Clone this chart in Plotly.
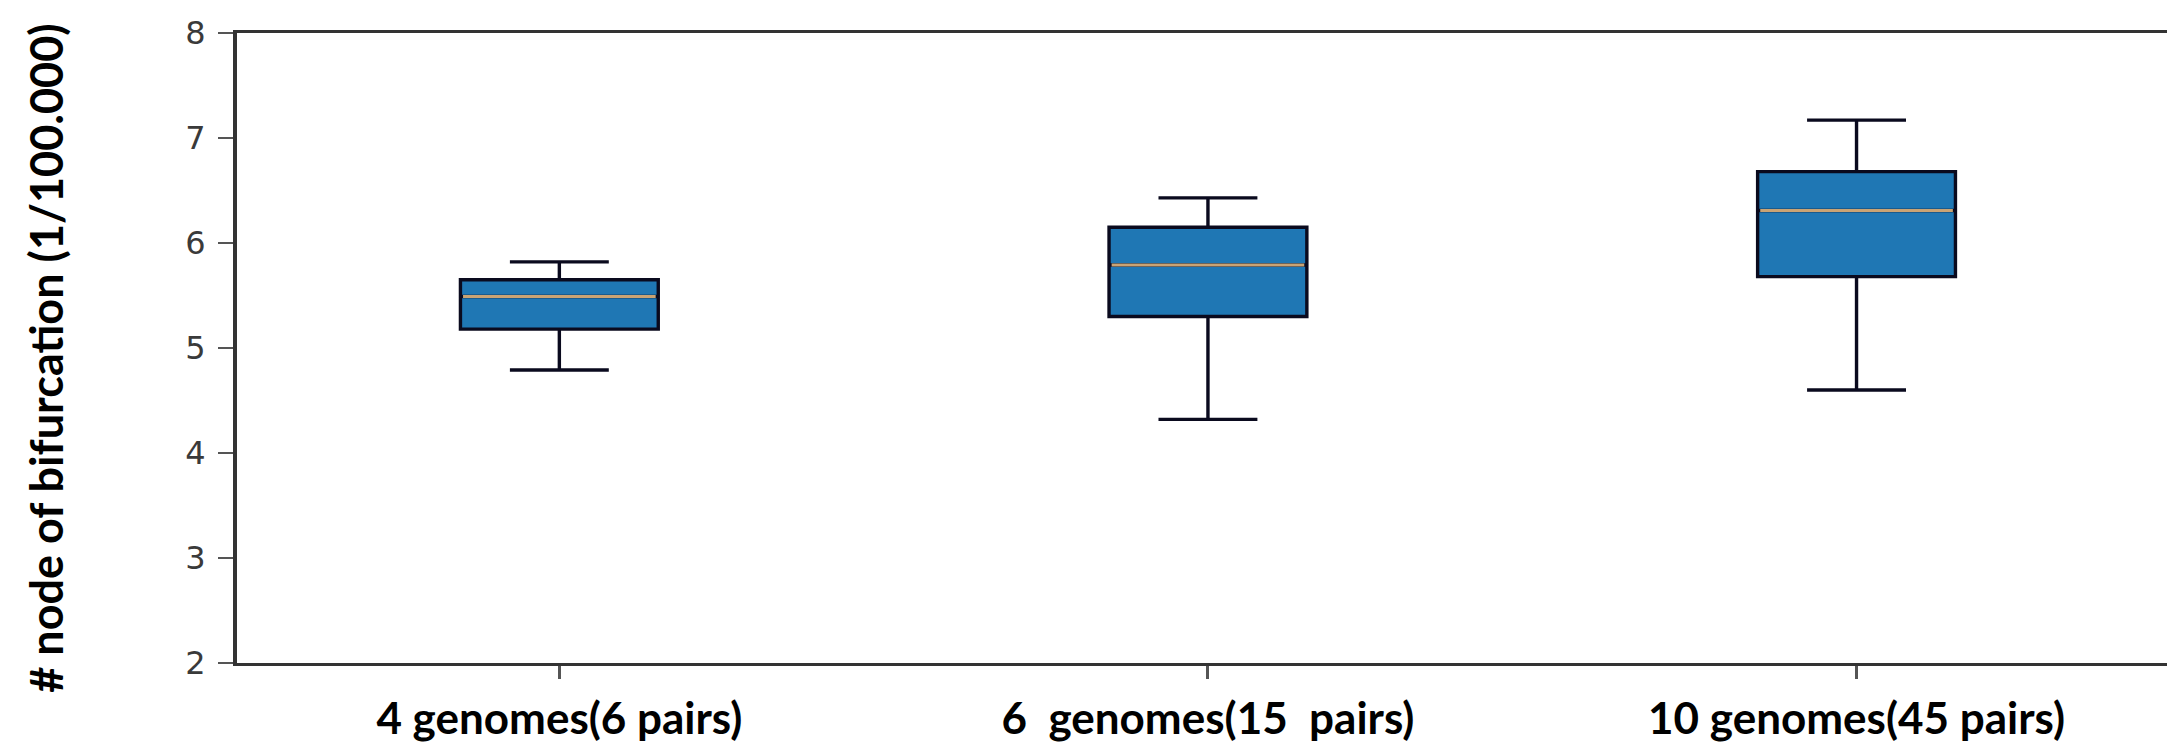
import plotly.graph_objects as go

# ---- data ----
categories = ["4 genomes(6 pairs)", "6  genomes(15  pairs)", "10 genomes(45 pairs)"]
positions = [1, 2, 3]
lower_whisker = [4.79, 4.32, 4.60]
q1_values = [5.18, 5.30, 5.68]
median_values = [5.49, 5.79, 6.31]
q3_values = [5.65, 6.15, 6.68]
upper_whisker = [5.82, 6.43, 7.17]
y_ticks = [2, 3, 4, 5, 6, 7, 8]
y_title = "# node of bifurcation (1/100.000)"

BOX_W = 0.305
BOX_FILL = "#1f77b4"
BOX_EDGE = "#0a0a1e"
MEDIAN_COLOR = "#c9a374"
LABEL_FONT = "Lato, 'Open Sans', sans-serif"

# the page body has an 8 px margin, so the figure is sized/offset to compensate
PAGE_OFFSET = 8
FIG_W = 2175 - PAGE_OFFSET
FIG_H = 746 - PAGE_OFFSET
M_L = 237 - PAGE_OFFSET
M_T = 33 - PAGE_OFFSET
M_B = 83
PLOT_W = FIG_W - M_L
PLOT_H = FIG_H - M_T - M_B

fig = go.Figure()
fig.add_trace(go.Box(
    x=positions,
    q1=q1_values,
    median=median_values,
    q3=q3_values,
    lowerfence=lower_whisker,
    upperfence=upper_whisker,
    width=BOX_W,
    whiskerwidth=0.5,
    fillcolor=BOX_FILL,
    line=dict(color=BOX_EDGE, width=3.4),
    boxpoints=False,
    hoverinfo="skip",
    showlegend=False,
))

# separate median lines (matplotlib style coloured medians)
for p, m in zip(positions, median_values):
    fig.add_trace(go.Scatter(
        x=[p - BOX_W / 2 + 0.004, p + BOX_W / 2 - 0.004],
        y=[m, m],
        mode="lines",
        line=dict(color=MEDIAN_COLOR, width=3),
        hoverinfo="skip",
        showlegend=False,
    ))

fig.update_layout(
    width=FIG_W,
    height=FIG_H,
    margin=dict(l=M_L, r=0, t=M_T, b=M_B),
    paper_bgcolor="white",
    plot_bgcolor="white",
    showlegend=False,
    xaxis=dict(
        range=[0.503, 3.491],
        tickmode="array",
        tickvals=positions,
        ticktext=categories,
        showgrid=False,
        zeroline=False,
        showline=True,
        mirror=True,
        automargin=False,
        linecolor="#333333",
        linewidth=3,
        ticks="outside",
        ticklen=13,
        tickwidth=3,
        tickcolor="#555555",
        ticklabelstandoff=2,
        tickfont=dict(family=LABEL_FONT, size=44, color="black", weight=700),
    ),
    yaxis=dict(
        range=[2, 8],
        tickmode="array",
        tickvals=y_ticks,
        ticktext=[str(t) for t in y_ticks],
        showgrid=False,
        zeroline=False,
        showline=True,
        mirror=False,
        automargin=False,
        linecolor="#333333",
        linewidth=4,
        ticks="outside",
        ticklen=15,
        tickwidth=2,
        tickcolor="#555555",
        ticklabelstandoff=6,
        tickfont=dict(family="DejaVu Sans", size=32, color="#3a3a3a"),
    ),
    annotations=[dict(
        text=y_title,
        xref="paper", yref="paper",
        x=(46 - 237) / PLOT_W, y=(663.3 - 359) / PLOT_H,
        xanchor="center", yanchor="middle",
        textangle=-90,
        showarrow=False,
        font=dict(family=LABEL_FONT, size=45, color="black", weight=700),
    )],
)

fig.write_html("out.html")
